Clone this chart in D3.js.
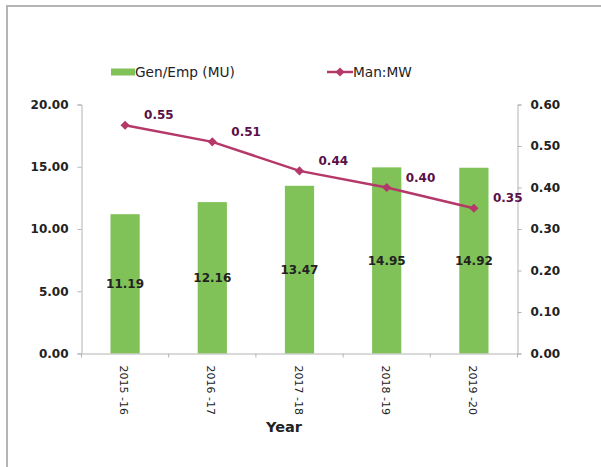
<!DOCTYPE html>
<html><head><meta charset="utf-8">
<script src="https://cdn.jsdelivr.net/npm/d3@7"></script>
<style>body{margin:0;background:#fff}svg{display:block}</style>
</head><body>
<script>
const categories = ["2015 -16","2016 -17","2017 -18","2018 -19","2019 -20"];
const genEmp = [11.19, 12.16, 13.47, 14.95, 14.92];
const manMW = [0.55, 0.51, 0.44, 0.40, 0.35];
const leftTicks = [0,5,10,15,20];
const rightTicks = [0,0.1,0.2,0.3,0.4,0.5,0.6];
const seriesNames = ["Gen/Emp (MU)", "Man:MW"];

const W=601,H=467;
const svg=d3.select("body").append("svg").attr("width",W).attr("height",H);
const font="DejaVu Sans";
// border
svg.append("rect").attr("x",7).attr("y",6).attr("width",W+20).attr("height",H+20)
  .attr("fill","none").attr("stroke","#b4b4b4").attr("stroke-width",2);

const L=81.5,R=517.5,T=104.5,B=353.5;
const x=d3.scaleBand().domain(categories).range([L,R]).paddingInner(0).paddingOuter(0);
const yL=d3.scaleLinear().domain([0,20]).range([B,T]);
const yR=d3.scaleLinear().domain([0,0.6]).range([B,T]);
const axisCol="#b4b4b4";

// bars
const bw=x.bandwidth()*0.335;
svg.append("g").selectAll("rect").data(genEmp).join("rect")
  .attr("x",(d,i)=>x(categories[i])+x.bandwidth()/2-bw/2)
  .attr("y",d=>yL(d)).attr("width",bw).attr("height",d=>B-yL(d))
  .attr("fill","#80c257");

// left axis
const gl=svg.append("g").attr("transform",`translate(${L},0)`)
  .call(d3.axisLeft(yL).tickValues(leftTicks).tickFormat(d3.format(".2f")).tickSize(4).tickPadding(9));
// right axis
const gr=svg.append("g").attr("transform",`translate(${R},0)`)
  .call(d3.axisRight(yR).tickValues(rightTicks).tickFormat(d3.format(".2f")).tickSize(4).tickPadding(9));
// bottom axis
const gb=svg.append("g").attr("transform",`translate(0,${B})`)
  .call(d3.axisBottom(x).tickSize(0).tickPadding(0));
gb.selectAll(".tick text").remove();
[gl,gr,gb].forEach(g=>{
  g.select(".domain").attr("stroke",axisCol);
  g.selectAll(".tick line").attr("stroke",axisCol);
  g.selectAll("text").attr("font-family",font).attr("font-size",12).attr("font-weight","bold").attr("fill","#222");
});
// boundary ticks on x-axis
const bounds=categories.map(c=>x(c)).concat([R]);
svg.append("g").selectAll("line").data(bounds).join("line")
  .attr("x1",d=>d).attr("x2",d=>d).attr("y1",B).attr("y2",B+4).attr("stroke",axisCol);
// x labels rotated
svg.append("g").selectAll("text").data(categories).join("text")
  .attr("transform",d=>`translate(${x(d)+x.bandwidth()/2-1},${B+12}) rotate(90)`)
  .attr("dy","0.35em").attr("text-anchor","start")
  .attr("font-family",font).attr("font-size",11).attr("fill","#222").text(d=>d);

// bar labels
svg.append("g").selectAll("text").data(genEmp).join("text")
  .attr("x",(d,i)=>x(categories[i])+x.bandwidth()/2)
  .attr("y",d=>(yL(d)+B)/2).attr("dy","0.35em").attr("text-anchor","middle")
  .attr("font-family",font).attr("font-size",12).attr("font-weight","bold").attr("fill","#222")
  .text(d=>d.toFixed(2));

// line
const lineCol="#b5386a";
const cx=i=>x(categories[i])+x.bandwidth()/2;
svg.append("path").datum(manMW)
  .attr("d",d3.line().x((d,i)=>cx(i)).y(d=>yR(d)))
  .attr("fill","none").attr("stroke",lineCol).attr("stroke-width",2.5);
const diamond=d3.symbol().type(d3.symbolSquare).size(42);
svg.append("g").selectAll("path").data(manMW).join("path")
  .attr("transform",(d,i)=>`translate(${cx(i)},${yR(d)}) rotate(45)`)
  .attr("d",diamond).attr("fill",lineCol);
svg.append("g").selectAll("text").data(manMW).join("text")
  .attr("x",(d,i)=>cx(i)+19).attr("y",d=>yR(d)-10).attr("dy","0.35em")
  .attr("font-family",font).attr("font-size",12).attr("font-weight","bold").attr("fill","#5a1048")
  .text(d=>d.toFixed(2));

// legend
svg.append("rect").attr("x",111).attr("y",68.5).attr("width",24).attr("height",7).attr("fill","#80c257");
svg.append("text").attr("x",135).attr("y",72).attr("dy","0.35em").attr("font-family",font).attr("font-size",13.7).attr("fill","#222").text(seriesNames[0]);
svg.append("line").attr("x1",327).attr("x2",353).attr("y1",72).attr("y2",72).attr("stroke",lineCol).attr("stroke-width",2.5);
svg.append("path").attr("transform","translate(340,72) rotate(45)").attr("d",diamond).attr("fill",lineCol);
svg.append("text").attr("x",353).attr("y",72).attr("dy","0.35em").attr("font-family",font).attr("font-size",13.7).attr("fill","#222").text(seriesNames[1]);

// axis title
svg.append("text").attr("x",284).attr("y",427).attr("dy","0.35em").attr("text-anchor","middle")
  .attr("font-family",font).attr("font-size",14.5).attr("font-weight","bold").attr("fill","#222").text("Year");
</script>
</body></html>
